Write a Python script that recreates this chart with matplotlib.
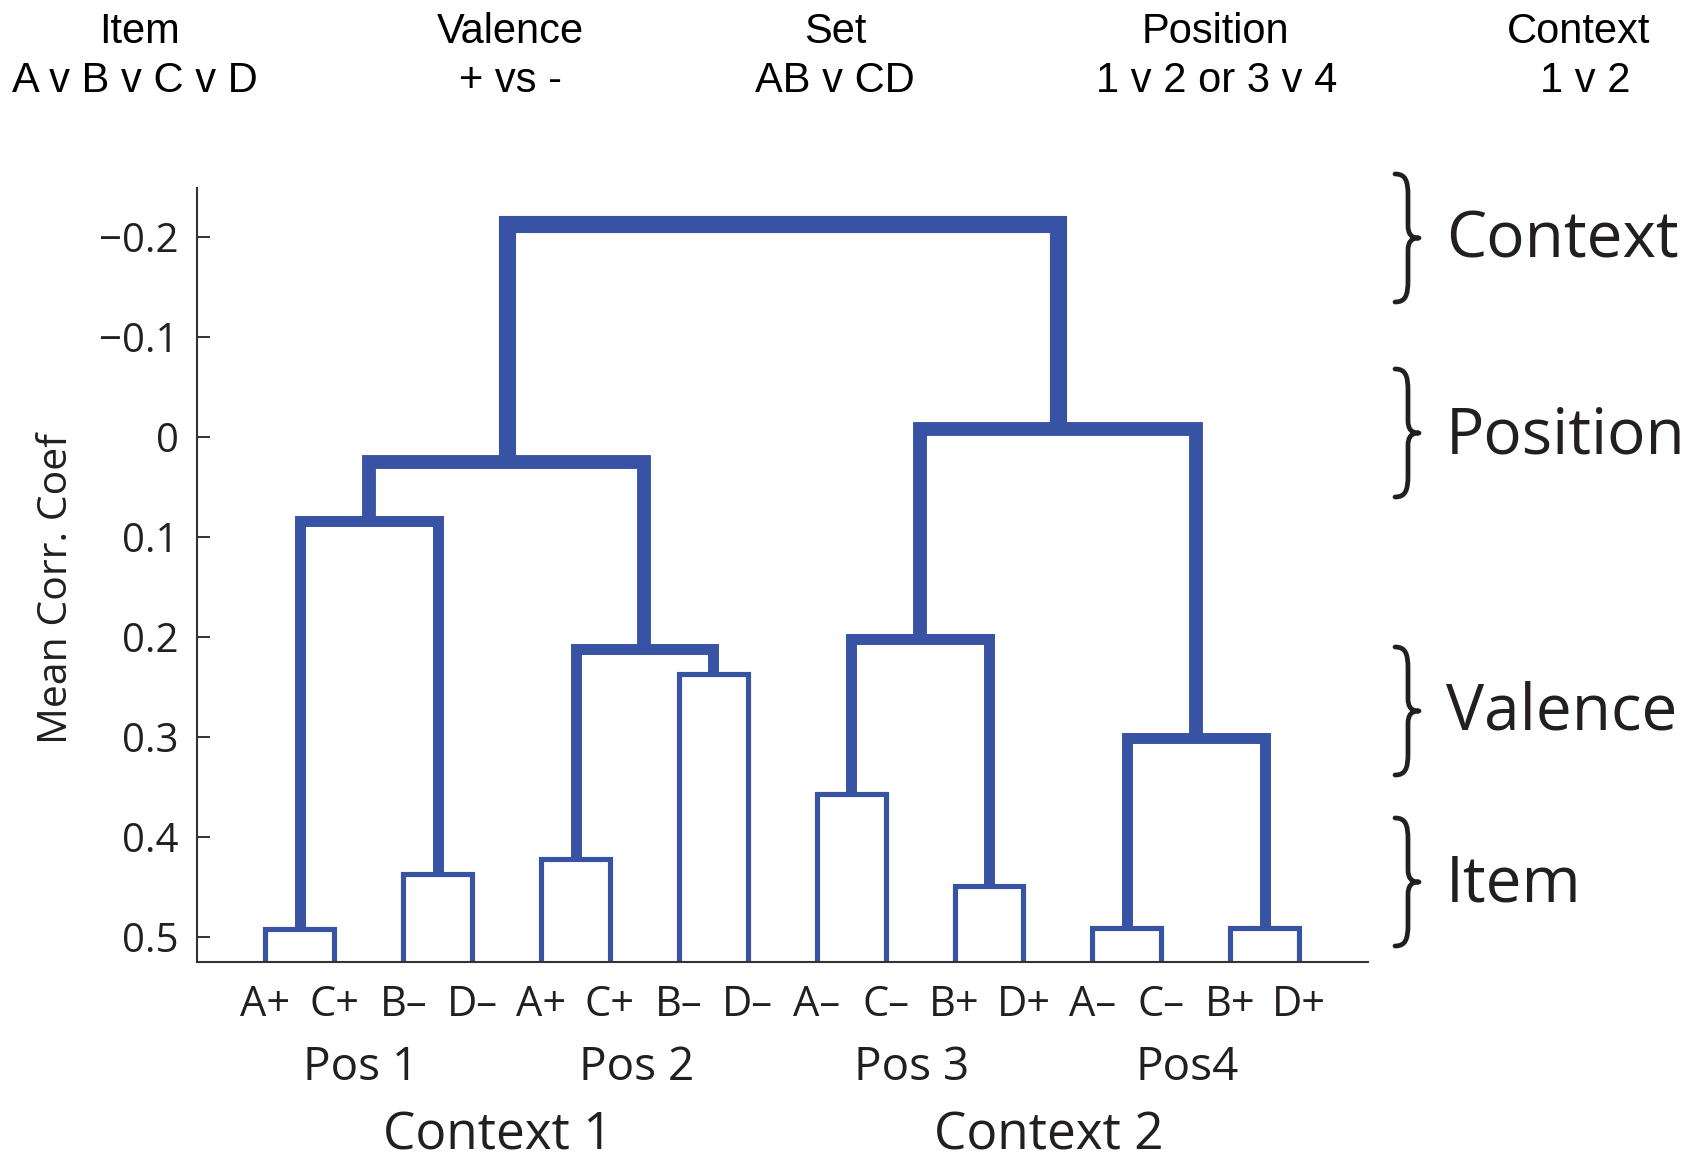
import matplotlib
matplotlib.use('Agg')
import matplotlib.pyplot as plt
from matplotlib.path import Path
from matplotlib.patches import PathPatch
from matplotlib.transforms import blended_transform_factory

# ---------------- data ----------------
leaf_labels = ['A+', 'C+', 'B\u2013', 'D\u2013', 'A+', 'C+', 'B\u2013', 'D\u2013',
               'A\u2013', 'C\u2013', 'B+', 'D+', 'A\u2013', 'C\u2013', 'B+', 'D+']
# linkage: leaves are ids 0..15, merge k gets id 16+k
merge_left = [0, 2, 16, 4, 6, 19, 18, 8, 10, 23, 12, 14, 26, 25, 22]
merge_right = [1, 3, 17, 5, 7, 20, 21, 9, 11, 24, 13, 15, 27, 28, 29]
merge_height = [0.492, 0.437, 0.084, 0.422, 0.237, 0.212, 0.025,
                0.357, 0.449, 0.202, 0.491, 0.491, 0.301, -0.008, -0.213]
position_groups = ['Pos 1', 'Pos 2', 'Pos 3', 'Pos4']
context_groups = ['Context 1', 'Context 2']
level_labels = ['Context', 'Position', 'Valence', 'Item']
header_titles = ['Item', 'Valence', 'Set', 'Position', 'Context']
header_subtitles = ['A v B v C v D', '+ vs -', 'AB v CD', '1 v 2 or 3 v 4', '1 v 2']
yticks = [-0.2, -0.1, 0.0, 0.1, 0.2, 0.3, 0.4, 0.5]
ytick_labels = ['\u22120.2', '\u22120.1', '0', '0.1', '0.2', '0.3', '0.4', '0.5']
y_label = 'Mean Corr. Coef'

# ---------------- style / layout ----------------
W, H = 1701, 1164
BLUE = '#3953a4'
INK = '#231f20'
SANS = ['Open Sans', 'DejaVu Sans']
ARIAL = ['Liberation Sans', 'DejaVu Sans']
lw_by_size = {2: 3.7, 4: 7.9, 8: 10.0, 16: 12.3}
YLIM = (0.525, -0.249)

fig = plt.figure(figsize=(W / 100, H / 100), dpi=100)
ax = fig.add_axes([196.5 / W, 1 - 961.5 / H, (1368 - 196.5) / W, (961.5 - 188) / H])
ov = fig.add_axes([0, 0, 1, 1])
ov.set_xlim(0, W)
ov.set_ylim(H, 0)
ov.axis('off')

n = len(leaf_labels)
ax.set_xlim(0, n + 1)
ax.set_ylim(*YLIM)

node_x = {i: i + 1 for i in range(n)}
node_y = {i: YLIM[0] for i in range(n)}
node_size = {i: 1 for i in range(n)}
for k, (a, b, h) in enumerate(zip(merge_left, merge_right, merge_height)):
    nid = n + k
    xa, xb = node_x[a], node_x[b]
    ya, yb = node_y[a], node_y[b]
    size = node_size[a] + node_size[b]
    ax.plot([xa, xa, xb, xb], [ya, h, h, yb], color=BLUE, lw=lw_by_size[size],
            solid_joinstyle='miter', solid_capstyle='butt', zorder=2)
    node_x[nid] = (xa + xb) / 2
    node_y[nid] = h
    node_size[nid] = size

for s in ['top', 'right']:
    ax.spines[s].set_visible(False)
for s in ['left', 'bottom']:
    ax.spines[s].set_color('#333333')
    ax.spines[s].set_linewidth(1.5)
    ax.spines[s].set_zorder(3)

ax.set_yticks(yticks)
ax.set_yticklabels(ytick_labels, fontfamily=SANS, fontsize=29, color=INK)
ax.tick_params(axis='y', direction='in', length=9, width=1.4, color='#333333', pad=13)
ax.set_xticks(range(1, n + 1))
ax.set_xticklabels(leaf_labels, fontfamily=SANS, fontsize=30, color=INK)
ax.tick_params(axis='x', length=0, pad=16)

# y label
ov.text(57, 588, y_label, rotation=90, ha='center', va='center',
        fontfamily=SANS, fontsize=29.5, color=INK)

# group labels below axis
bt = blended_transform_factory(ax.transData, ov.transData)
for i, lab in enumerate(position_groups):
    cx = 4 * i + 2.5 - 0.12
    ax.text(cx, 1080, lab, transform=bt, ha='center', va='baseline',
            fontfamily=SANS, fontsize=33, color=INK)
for i, lab in enumerate(context_groups):
    cx = 8 * i + 4.5 - 0.13
    ax.text(cx, 1150, lab, transform=bt, ha='center', va='baseline',
            fontfamily=SANS, fontsize=37, color=INK)

# header
hx1 = [139, 510, 835, 1215, 1579]
hx2 = [135, 510, 835, 1217, 1585]
for t, s, x1, x2 in zip(header_titles, header_subtitles, hx1, hx2):
    ov.text(x1, 42.7, t, ha='center', va='baseline', fontfamily=ARIAL,
            fontsize=30, color='black')
    ov.text(x2, 91.7, s, ha='center', va='baseline', fontfamily=ARIAL,
            fontsize=30, color='black')


# braces + level labels on the right
def brace(yc, h=128, x0=1395, xs=1408, xt=1419):
    yt, yb = yc - h / 2, yc + h / 2
    verts = [
        (x0, yt), (x0 + 0.8 * (xs - x0), yt), (xs, yt + 0.05 * h), (xs, yt + 0.17 * h),
        (xs, yc - 0.1 * h),
        (xs, yc - 0.03 * h), (xs + 0.3 * (xt - xs), yc), (xt, yc),
        (xs + 0.3 * (xt - xs), yc), (xs, yc + 0.03 * h), (xs, yc + 0.1 * h),
        (xs, yb - 0.17 * h),
        (xs, yb - 0.05 * h), (x0 + 0.8 * (xs - x0), yb), (x0, yb),
    ]
    codes = [Path.MOVETO, Path.CURVE4, Path.CURVE4, Path.CURVE4,
             Path.LINETO,
             Path.CURVE4, Path.CURVE4, Path.CURVE4,
             Path.CURVE4, Path.CURVE4, Path.CURVE4,
             Path.LINETO,
             Path.CURVE4, Path.CURVE4, Path.CURVE4]
    ov.add_patch(PathPatch(Path(verts, codes), facecolor='none', edgecolor=INK,
                           lw=3.4, capstyle='round', joinstyle='round'))


brace_centers = [238, 433, 711, 882]
label_baselines = [258, 453, 730, 901]
for lab, yc, yb in zip(level_labels, brace_centers, label_baselines):
    brace(yc)
    ov.text(1446, yb, lab, ha='left', va='baseline', fontfamily=SANS,
            fontsize=46, color=INK)

fig.savefig('out.png', dpi=100)
